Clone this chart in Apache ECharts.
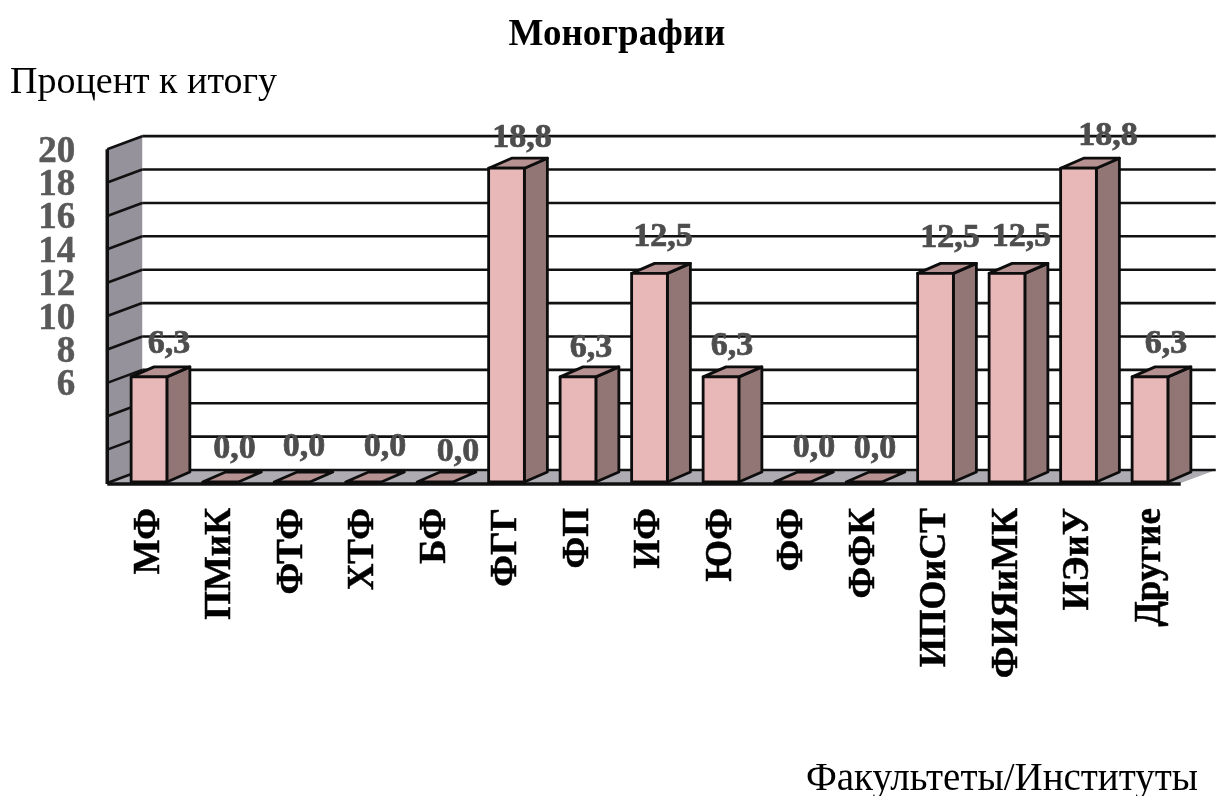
<!DOCTYPE html>
<html><head><meta charset="utf-8">
<style>html,body{margin:0;padding:0;background:#fff}#c{width:1226px;height:796px}</style>
<script src="https://cdn.jsdelivr.net/npm/echarts@6/dist/echarts.min.js"></script>
</head><body><div id="c"></div>
<script>
const categories = ['МФ','ПМиК','ФТФ','ХТФ','БФ','ФГГ','ФП','ИФ','ЮФ','ФФ','ФФК','ИПОиСТ','ФИЯиМК','ИЭиУ','Другие'];
const values = [6.3,0,0,0,0,18.8,6.3,12.5,6.3,0,0,12.5,12.5,18.8,6.3];
const valueLabels = ['6,3','0,0','0,0','0,0','0,0','18,8','6,3','12,5','6,3','0,0','0,0','12,5','12,5','18,8','6,3'];
const gridTicks = [0,2,4,6,8,10,12,14,16,18,20];
const yTickLabels = [6,8,10,12,14,16,18,20];
const labelDx = [20,14,12,21.5,23,15.5,13,13.5,11,21.5,11,14.5,14.5,29.5,16];
const labelDy = [-33,-33,-35,-35,-30,-30,-29,-36,-31,-34,-33,-35,-36,-32,-33];

const FONT = '"Liberation Serif", serif';
const depthBar = [23,-10], depthWall = [35,-13];

function wallItem(params, api){
  const v = api.value(0), p = api.coord([0,v]);
  const left = params.coordSys.x - 6, right = params.coordSys.x + params.coordSys.width - 5;
  const y = p[1] + 1;
  const line = {stroke:'#111',lineWidth:2.6};
  const ch = [];
  if (v === 0) {
    const top = api.coord([0,20])[1] + 1;
    ch.push({type:'polygon',shape:{points:[[left,top],[left+depthWall[0],top+depthWall[1]],[left+depthWall[0],y+depthWall[1]],[left,y]]},style:{fill:'#96929b'}});
    ch.push({type:'polygon',shape:{points:[[left,y],[left+depthWall[0],y+depthWall[1]],[right+depthWall[0],y+depthWall[1]],[right,y]]},style:{fill:'#aeabb3'}});
    ch.push({type:'line',shape:{x1:left,y1:top,x2:left,y2:y+1},style:{stroke:'#111',lineWidth:3.5}});
    ch.push({type:'line',shape:{x1:left,y1:y+1,x2:right,y2:y+1},style:{stroke:'#111',lineWidth:3.5}});
  }
  ch.push({type:'line',shape:{x1:left,y1:y,x2:left+depthWall[0],y2:y+depthWall[1]},style:line});
  ch.push({type:'line',shape:{x1:left+depthWall[0],y1:y+depthWall[1],x2:right+depthWall[0],y2:y+depthWall[1]},style:line});
  return {type:'group',children:ch};
}

function barItem(params, api){
  const i = api.value(0), v = api.value(1);
  const base = api.coord([i,0]), top = api.coord([i,v]);
  const w = api.size([1,0])[0]*0.5;
  const x0 = base[0]-w/2, x1 = base[0]+w/2, yb = base[1], yt = top[1];
  const dx = depthBar[0], dy = depthBar[1];
  const st = {stroke:'#0d0d0d',lineWidth:2.8,lineJoin:'round'};
  const ch = [];
  if (v > 0) {
    ch.push({type:'polygon',shape:{points:[[x1,yb],[x1+dx,yb+dy],[x1+dx,yt+dy],[x1,yt]]},style:{fill:'#927575',...st}});
    ch.push({type:'polygon',shape:{points:[[x0,yt],[x0+dx,yt+dy],[x1+dx,yt+dy],[x1,yt]]},style:{fill:'#b69191',...st}});
    ch.push({type:'rect',shape:{x:x0,y:yt,width:w,height:yb-yt},style:{fill:'#e8b7b7',...st}});
  } else {
    ch.push({type:'polygon',shape:{points:[[x0,yb],[x0+dx,yb+dy],[x1+dx,yb+dy],[x1,yb]]},style:{fill:'#b69191',...st}});
  }
  ch.push({type:'text',x:base[0]+labelDx[i],y:yt+labelDy[i],style:{text:valueLabels[i],font:'bold 34px '+FONT,fill:'#4d4d4d',stroke:'#4d4d4d',lineWidth:0.7,align:'center',verticalAlign:'middle'},z2:10});
  return {type:'group',children:ch};
}

const chart = echarts.init(document.getElementById('c'),null,{renderer:'canvas'});
chart.setOption({
  animation:false,
  backgroundColor:'#fff',
  title:[
    {text:'Монографии',left:617,top:17,padding:0,textAlign:'center',textStyle:{fontFamily:FONT,fontWeight:'bold',fontSize:37,color:'#000'}},
    {text:'Процент к итогу',left:10,top:64,padding:0,textStyle:{fontFamily:FONT,fontWeight:'normal',fontSize:38,color:'#000'}},
    {text:'Факультеты/Институты',left:1198,top:760,padding:0,textAlign:'right',textStyle:{fontFamily:FONT,fontWeight:'normal',fontSize:39,color:'#000'}}
  ],
  grid:{left:113.25,width:1072.5,top:148,height:334,containLabel:false},
  xAxis:{type:'category',data:categories,boundaryGap:true,
    axisLine:{show:false},axisTick:{show:false},
    axisLabel:{rotate:90,interval:0,margin:26,fontFamily:FONT,fontWeight:'bold',fontSize:37,color:'#000',padding:[0,0,17,0],textBorderColor:'#000',textBorderWidth:0.5}},
  yAxis:{type:'value',min:0,max:20.01,interval:2,
    axisLine:{show:false},axisTick:{show:false},splitLine:{show:false},
    axisLabel:{margin:38,showMaxLabel:false,hideOverlap:false,fontFamily:FONT,fontWeight:'bold',fontSize:37,color:'#595959',verticalAlign:'top',lineHeight:8,textBorderColor:'#595959',textBorderWidth:0.5,
      formatter:v=>yTickLabels.includes(v)?String(v):''}},
  series:[
    {type:'custom',coordinateSystem:'cartesian2d',clip:false,silent:true,z:1,renderItem:wallItem,
      encode:{x:-1,y:0},data:gridTicks.map(v=>[v])},
    {type:'custom',coordinateSystem:'cartesian2d',clip:false,silent:true,z:2,renderItem:barItem,
      encode:{x:0,y:1},data:values.map((v,i)=>[i,v])}
  ]
});
</script></body></html>
